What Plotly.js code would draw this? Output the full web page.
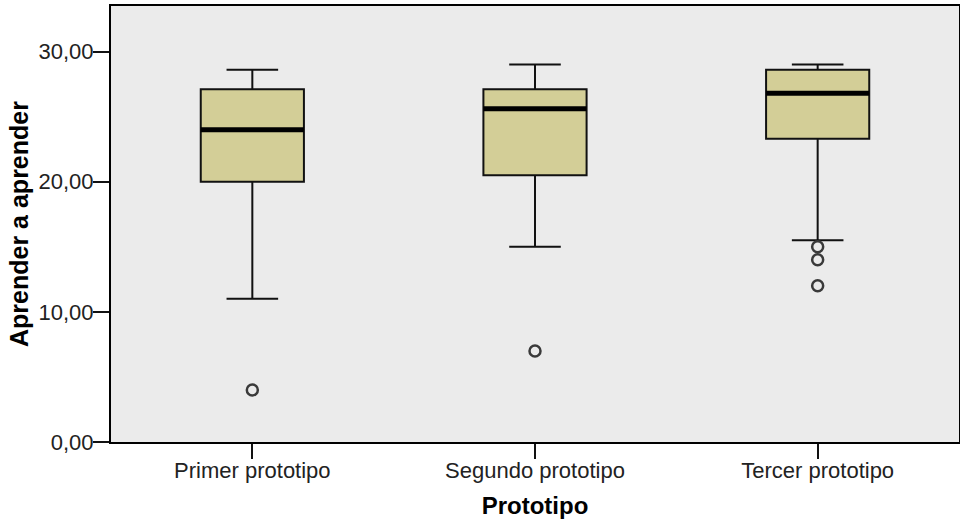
<!DOCTYPE html>
<html>
<head>
<meta charset="utf-8">
<script src="https://cdn.plot.ly/plotly-3.0.1.min.js"></script>
<style>html,body{margin:0;padding:0;background:#fff;}#chart{width:960px;height:521px;}</style>
</head>
<body>
<div id="chart"></div>
<script>
// Data
const categories = ["Primer prototipo", "Segundo prototipo", "Tercer prototipo"];
const lowerWhisker = [11.0, 15.0, 15.5];
const q1Values = [20.0, 20.5, 23.3];
const medianValues = [24.0, 25.6, 26.8];
const q3Values = [27.1, 27.1, 28.6];
const upperWhisker = [28.6, 29.0, 29.0];
const outlierCategory = ["Primer prototipo", "Segundo prototipo", "Tercer prototipo", "Tercer prototipo", "Tercer prototipo"];
const outlierValues = [4.0, 7.0, 15.0, 14.0, 12.0];
const yTickValues = [0, 10, 20, 30];

const boxWidth = 0.365;
const fillColor = "#D3CE97";

const traces = [];
categories.forEach((c, i) => {
  traces.push({
    type: "box",
    x: [c],
    q1: [q1Values[i]],
    median: [medianValues[i]],
    q3: [q3Values[i]],
    lowerfence: [lowerWhisker[i]],
    upperfence: [upperWhisker[i]],
    boxpoints: false,
    width: boxWidth,
    whiskerwidth: 0.5,
    fillcolor: fillColor,
    line: {color: "#111", width: 2},
    hoverinfo: "skip",
    showlegend: false
  });
});
traces.push({
  type: "scatter",
  mode: "markers",
  x: outlierCategory,
  y: outlierValues,
  marker: {symbol: "circle-open", size: 11, color: "#3a3a3a", line: {width: 2.5, color: "#3a3a3a"}},
  hoverinfo: "skip",
  showlegend: false
});

const shapes = medianValues.map((m, i) => ({
  type: "line", xref: "x", yref: "y",
  x0: i - boxWidth / 2, x1: i + boxWidth / 2,
  y0: m, y1: m,
  line: {color: "#000", width: 5},
  layer: "above"
}));

const layout = {
  width: 960, height: 521,
  margin: {l: 111, r: 1, t: 6, b: 79},
  paper_bgcolor: "#ffffff",
  plot_bgcolor: "#EBEBEB",
  separators: ",.",
  showlegend: false,
  font: {family: "Liberation Sans, Arial, sans-serif", color: "#222"},
  xaxis: {
    type: "category",
    categoryarray: categories,
    range: [-0.5, 2.5],
    showgrid: false, zeroline: false,
    showline: true, mirror: true, linecolor: "#000", linewidth: 2,
    ticks: "outside", ticklen: 15, tickwidth: 2, tickcolor: "#111",
    ticklabelstandoff: -7,
    tickfont: {size: 22, color: "#222"},
    title: {text: "Prototipo", font: {size: 24, color: "#000", weight: "bold"}, standoff: 15}
  },
  yaxis: {
    range: [0, 33.5],
    tickvals: yTickValues,
    tickformat: ".2f",
    showgrid: false, zeroline: false,
    showline: true, mirror: true, linecolor: "#000", linewidth: 2,
    ticks: "outside", ticklen: 16, tickwidth: 2, tickcolor: "#111",
    ticklabelstandoff: -5,
    tickfont: {size: 22, color: "#222"},
    title: {text: "Aprender a aprender", font: {size: 25, color: "#000", weight: "bold"}, standoff: 3}
  },
  shapes: shapes
};

Plotly.newPlot("chart", traces, layout, {staticPlot: true, displayModeBar: false});
</script>
</body>
</html>
